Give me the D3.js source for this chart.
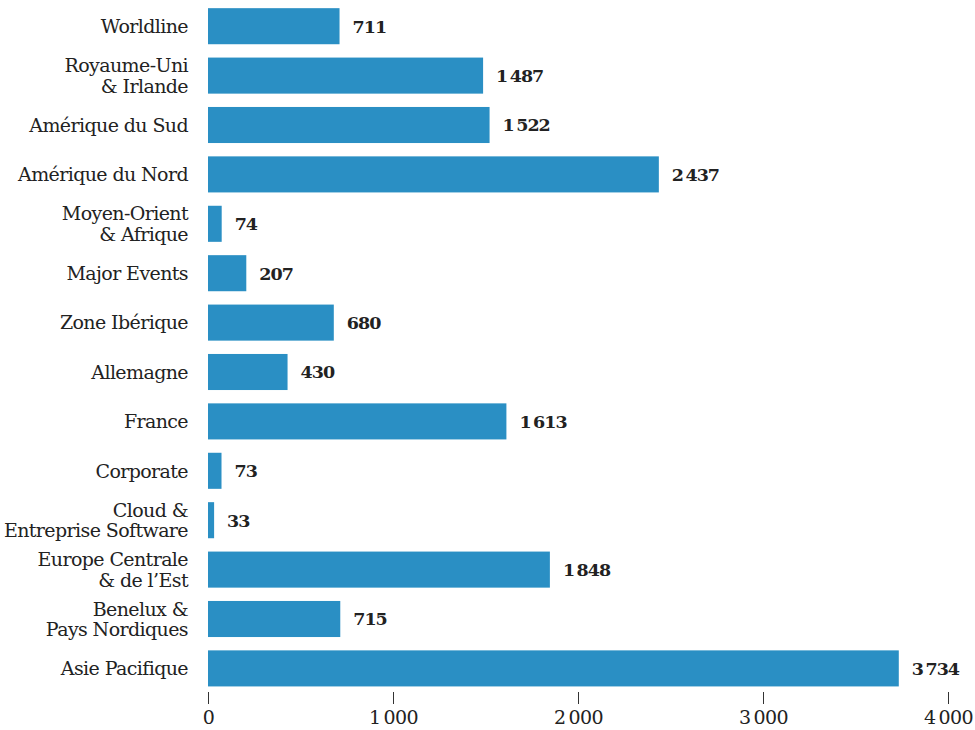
<!DOCTYPE html>
<html>
<head>
<meta charset="utf-8">
<script src="https://cdn.jsdelivr.net/npm/d3@7"></script>
<style>
  body { margin: 0; background: #fff; }
  text { font-family: "DejaVu Serif", serif; fill: #222; }
</style>
</head>
<body>
<svg id="chart" width="975" height="730"></svg>
<script>
// categories (top to bottom), "\n" marks a line break in the label
const categories = [
  'Worldline',
  'Royaume-Uni\n& Irlande',
  'Amérique du Sud',
  'Amérique du Nord',
  'Moyen-Orient\n& Afrique',
  'Major Events',
  'Zone Ibérique',
  'Allemagne',
  'France',
  'Corporate',
  'Cloud &\nEntreprise Software',
  'Europe Centrale\n& de l\u2019Est',
  'Benelux &\nPays Nordiques',
  'Asie Pacifique'
]
const values = [711, 1487, 1522, 2437, 74, 207, 680, 430, 1613, 73, 33, 1848, 715, 3734]
const tickValues = [0, 1000, 2000, 3000, 4000]

const svg = d3.select('#chart')
const margin = { left: 208, right: 27, top: 8 }
const barColor = '#2a8fc4'

const fmt = (v) => {
  const s = String(v)
  return s.length > 3 ? s.slice(0, -3) + '\u2009' + s.slice(-3) : s
}

const x = d3.scaleLinear().domain([0, 4000]).range([margin.left, 975 - margin.right])

const y = d3.scaleBand()
  .domain(d3.range(categories.length))
  .range([margin.top - 6.5, margin.top - 6.5 + 49.4 * categories.length])
  .paddingInner(0.27)
  .paddingOuter(0.135)

// bars
svg.append('g')
  .selectAll('rect')
  .data(values)
  .join('rect')
  .attr('x', x(0))
  .attr('y', (d, i) => y(i))
  .attr('width', (d) => x(d) - x(0))
  .attr('height', y.bandwidth())
  .attr('fill', barColor)

// value labels
svg.append('g')
  .selectAll('text')
  .data(values)
  .join('text')
  .attr('x', (d) => x(d) + 13)
  .attr('y', (d, i) => y(i) + y.bandwidth() / 2)
  .attr('dy', '0.36em')
  .style('font-size', '17.5px')
  .style('font-weight', 'bold')
  .style('letter-spacing', '-1px')
  .text(fmt)

// category labels
const lab = svg.append('g')
  .selectAll('text')
  .data(categories)
  .join('text')
  .attr('text-anchor', 'end')
  .attr('x', 188)
  .attr('y', (d, i) => y(i) + y.bandwidth() / 2)
  .style('font-size', '19px')
  .style('letter-spacing', '-0.6px')

lab.each(function(d) {
  const lines = d.split('\n')
  const t = d3.select(this)
  lines.forEach((line, k) => {
    t.append('tspan')
      .attr('x', 188)
      .attr('dy', k === 0 ? (0.36 - (lines.length - 1) * 0.54) + 'em' : '1.08em')
      .text(line)
  })
})

// x axis: ticks only, no domain line
const axis = svg.append('g')
  .attr('transform', 'translate(0,692)')
  .call(d3.axisBottom(x).tickValues(tickValues).tickSize(12).tickPadding(7).tickFormat(fmt))

axis.select('.domain').remove()
axis.selectAll('.tick line').attr('stroke', '#333')
axis.selectAll('.tick text')
  .style('font-family', '"DejaVu Serif", serif')
  .style('font-size', '19px')
  .style('letter-spacing', '-0.6px')
  .attr('fill', '#222')
</script>
</body>
</html>
